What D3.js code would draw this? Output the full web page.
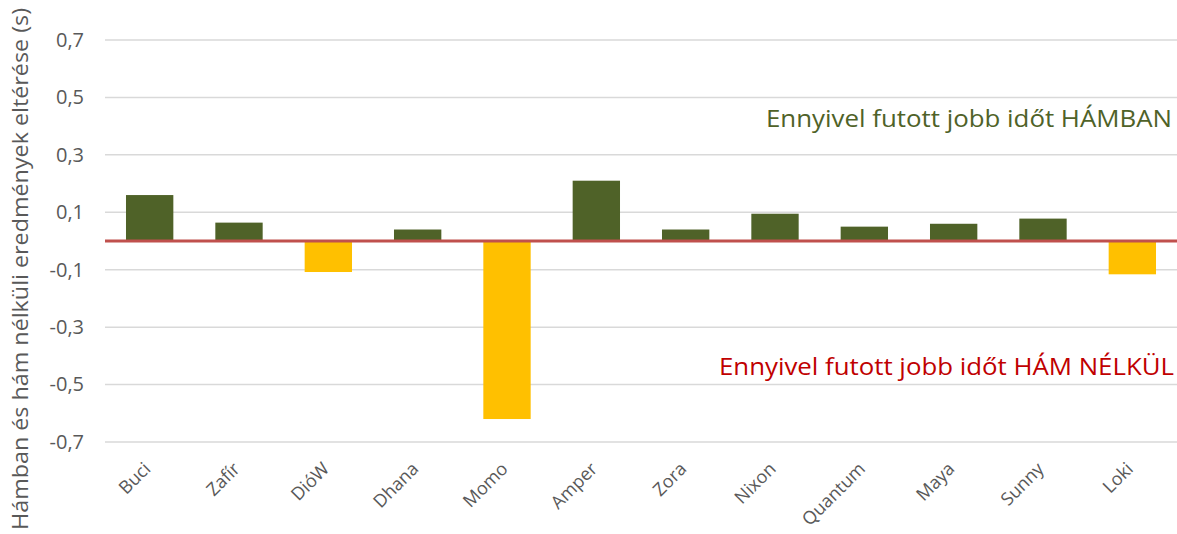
<!DOCTYPE html>
<html><head><meta charset="utf-8">
<script src="https://cdn.jsdelivr.net/npm/d3@7/dist/d3.min.js"></script>
<style>body{margin:0;background:#fff}svg{display:block}</style>
</head><body>
<svg id="c" width="1177" height="534"></svg>
<script>
const categories = ["Buci","Zafír","DióW","Dhana","Momo","Amper","Zora","Nixon","Quantum","Maya","Sunny","Loki"];
const values = [0.16, 0.064, -0.108, 0.04, -0.62, 0.21, 0.04, 0.095, 0.05, 0.06, 0.078, -0.116];
const yTicks = [0.7, 0.5, 0.3, 0.1, -0.1, -0.3, -0.5, -0.7];
const yTitle = "Hámban és hám nélküli eredmények eltérése (s)";
const noteUp = "Ennyivel futott jobb időt HÁMBAN";
const noteDown = "Ennyivel futott jobb időt HÁM NÉLKÜL";

const svg = d3.select("#c");
const W = 1177, H = 534;
const m = {left:105, right:0, top:40, bottom:92};
const x = d3.scaleBand().domain(categories).range([m.left, W - m.right]).paddingInner(0.47).paddingOuter(0.235);
const y = d3.scaleLinear().domain([-0.7, 0.7]).range([H - m.bottom, m.top]);

// gridlines
svg.append("g").selectAll("line").data(yTicks).join("line")
  .attr("x1", m.left).attr("x2", W).attr("y1", d => y(d)).attr("y2", d => y(d))
  .attr("stroke", "#d9d9d9").attr("stroke-width", 1.5);

// y tick labels
const yAxis = d3.axisLeft(y).tickValues(yTicks).tickSize(0).tickPadding(0)
  .tickFormat(d => d3.format(".1f")(d).replace(".", ",").replace("−", "-"));
const gy = svg.append("g").attr("transform", `translate(84,0)`).call(yAxis);
gy.select(".domain").remove();
gy.selectAll("text").attr("font-family", "'Open Sans', sans-serif").attr("font-size", 20).attr("fill", "#595959");

// bars
svg.append("g").selectAll("rect").data(values).join("rect")
  .attr("x", (d, i) => x(categories[i]))
  .attr("width", x.bandwidth())
  .attr("y", d => y(Math.max(0, d)))
  .attr("height", d => Math.abs(y(d) - y(0)))
  .attr("fill", d => d >= 0 ? "#4f6228" : "#ffc000");

// zero line
svg.append("line").attr("x1", m.left).attr("x2", W).attr("y1", y(0)).attr("y2", y(0))
  .attr("stroke", "#c0504d").attr("stroke-width", 3);

// x labels
const xAxis = d3.axisBottom(x).tickSize(0).tickPadding(0);
const gx = svg.append("g").attr("transform", `translate(0,${H - m.bottom})`).call(xAxis);
gx.select(".domain").remove();
gx.selectAll("text")
  .attr("font-family", "'Open Sans', sans-serif").attr("font-size", 18).attr("fill", "#595959")
  .attr("text-anchor", "end").attr("dy", null).attr("y", 0)
  .attr("transform", "translate(2,28) rotate(-45)");

// y title
svg.append("text")
  .attr("transform", `translate(28,${H/2 + 2}) rotate(-90)`)
  .attr("text-anchor", "middle")
  .attr("font-family", "'Open Sans', sans-serif").attr("font-size", 21.5).attr("fill", "#595959")
  .attr("textLength", 522).attr("lengthAdjust", "spacingAndGlyphs")
  .text(yTitle);

// annotations
svg.append("text").attr("x", 1172).attr("y", 127).attr("text-anchor", "end")
  .attr("font-family", "'Open Sans', sans-serif").attr("font-size", 23).attr("fill", "#4f6228")
  .attr("textLength", 406).attr("lengthAdjust", "spacingAndGlyphs")
  .text(noteUp);
svg.append("text").attr("x", 1174).attr("y", 375).attr("text-anchor", "end")
  .attr("font-family", "'Open Sans', sans-serif").attr("font-size", 23).attr("fill", "#c00000")
  .attr("textLength", 455).attr("lengthAdjust", "spacingAndGlyphs")
  .text(noteDown);
</script>
</body></html>
